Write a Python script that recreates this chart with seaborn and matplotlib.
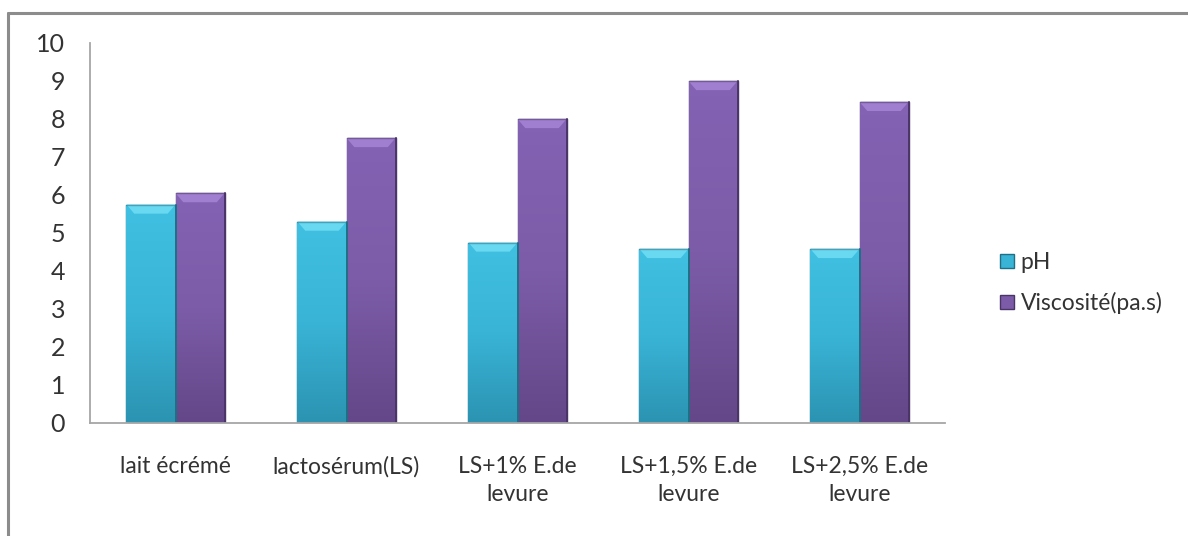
import numpy as np
import pandas as pd
import matplotlib
matplotlib.use("Agg")
import matplotlib.pyplot as plt
from matplotlib.patches import Polygon
from matplotlib.lines import Line2D
from matplotlib.colors import LinearSegmentedColormap
import seaborn as sns

# Data
categories = ["lait écrémé", "lactosérum(LS)", "LS+1% E.de\nlevure",
              "LS+1,5% E.de\nlevure", "LS+2,5% E.de\nlevure"]
series_names = ["pH", "Viscosité(pa.s)"]
ph_values = [5.75, 5.3, 4.75, 4.58, 4.58]
viscosity_values = [6.05, 7.5, 8.0, 9.0, 8.45]
y_ticks = [0, 1, 2, 3, 4, 5, 6, 7, 8, 9, 10]

df = pd.DataFrame({
    "categorie": categories * 2,
    "serie": [series_names[0]] * len(categories) + [series_names[1]] * len(categories),
    "valeur": ph_values + viscosity_values,
})

sns.set_theme(style="white")
plt.rcParams["font.family"] = ["Lato", "DejaVu Sans"]

face_colors = {"pH": "#39b4d6", "Viscosité(pa.s)": "#7c5ca8"}
light_colors = {"pH": "#40c0e2", "Viscosité(pa.s)": "#8462b4"}
dark_colors = {"pH": "#2c93b2", "Viscosité(pa.s)": "#634788"}
edge_colors = {"pH": "#1f6f86", "Viscosité(pa.s)": "#4a3468"}
cap_colors = {"pH": "#74e0f6", "Viscosité(pa.s)": "#a887d8"}

fig = plt.figure(figsize=(11.88, 5.36), dpi=100)
ax = fig.add_axes([90 / 1188, (536 - 423) / 536, 855 / 1188, 380 / 536])

sns.barplot(data=df, x="categorie", y="valeur", hue="serie",
            hue_order=series_names, order=categories,
            palette=face_colors, width=0.574, gap=0, saturation=1,
            ax=ax, legend=False)

ax.set_ylim(0, 10)
ax.set_xlim(-0.5, len(categories) - 0.5)

# Bevelled look: vertical gradient + lighter top cap on each bar
bars = ax.patches
n = len(categories)
for i, bar in enumerate(bars[:2 * n]):
    name = series_names[i // n]
    x, y0 = bar.get_x(), bar.get_y()
    w, h = bar.get_width(), bar.get_height()
    cmap = LinearSegmentedColormap.from_list(
        "g", [dark_colors[name], face_colors[name], light_colors[name]])
    grad = np.linspace(0, 1, 256).reshape(-1, 1)
    im = ax.imshow(grad, cmap=cmap, origin="lower", aspect="auto",
                   extent=(x, x + w, y0, y0 + h), zorder=bar.get_zorder() + 0.1,
                   interpolation="bicubic")
    im.set_clip_path(bar)
    bar.set_edgecolor(edge_colors[name])
    bar.set_linewidth(1.0)
    dx = w * 0.16
    dy = 0.24
    cap = Polygon([(x, h), (x + w, h), (x + w - dx, h - dy), (x + dx, h - dy)],
                  closed=True, facecolor=cap_colors[name], edgecolor="none",
                  alpha=0.8, zorder=bar.get_zorder() + 0.2)
    ax.add_patch(cap)
    ax.plot([x, x + w], [h, h], color=edge_colors[name], lw=1.0,
            zorder=bar.get_zorder() + 0.3, alpha=0.5)
    ax.plot([x + w, x + w], [0, h], color=edge_colors[name], lw=1.4,
            zorder=bar.get_zorder() + 0.3)
    ax.set_xlim(-0.5, len(categories) - 0.5)
    ax.set_ylim(0, 10)

# Axes styling
for side in ("top", "right"):
    ax.spines[side].set_visible(False)
for side in ("left", "bottom"):
    ax.spines[side].set_color("#a6a6a6")
    ax.spines[side].set_linewidth(1.3)
ax.set_yticks(y_ticks)
ax.set_yticklabels([str(t) for t in y_ticks])
ax.tick_params(axis="y", length=0, pad=18, labelsize=18, labelcolor="#333333")
ax.tick_params(axis="x", length=0, pad=24, labelsize=16.5, labelcolor="#333333")
for lbl in ax.get_xticklabels():
    lbl.set_linespacing(1.4)
    lbl.set_verticalalignment("top")
ax.set_xlabel("")
ax.set_ylabel("")
ax.grid(False)

# Legend
handles = [
    Line2D([0], [0], marker="s", linestyle="none", markersize=10,
           markerfacecolor=face_colors[s], markeredgecolor=edge_colors[s])
    for s in series_names
]
fig.legend(handles, series_names, loc="center left",
           bbox_to_anchor=(976 / 1188, 1 - 283 / 536), frameon=False,
           fontsize=16.5, handletextpad=0.15, labelspacing=0.85,
           handlelength=0.9, labelcolor="#333333")

# Outer chart frame (left and top edges)
fig.add_artist(Line2D([8 / 1188, 8 / 1188], [0, 1 - 13 / 536],
                      transform=fig.transFigure, color="#8c8c8c", lw=2.2))
fig.add_artist(Line2D([8 / 1188, 1], [1 - 13 / 536, 1 - 13 / 536],
                      transform=fig.transFigure, color="#8c8c8c", lw=2.2))

fig.savefig("out.png", dpi=100, facecolor="white")
